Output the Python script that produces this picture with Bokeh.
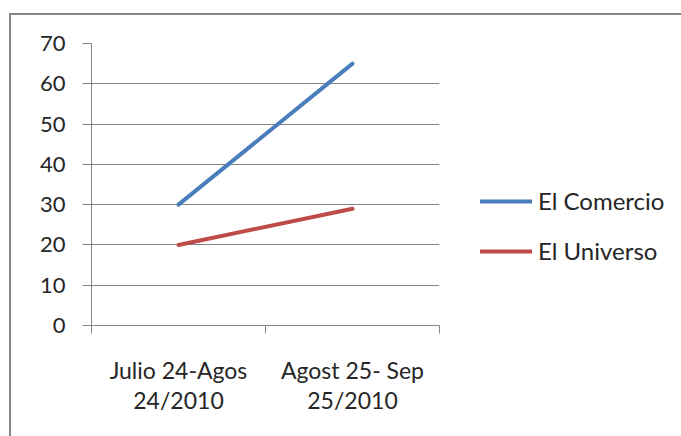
from bokeh.plotting import figure
from bokeh.models import Range1d, FixedTicker, Legend, LegendItem
from bokeh.embed import file_html
from bokeh.resources import INLINE

categories = ["Julio 24-Agos\n24/2010", "Agost 25- Sep\n25/2010"]
series_names = ["El Comercio", "El Universo"]
comercio = [30, 65]
universo = [20, 29]
y_ticks = [0, 10, 20, 30, 40, 50, 60, 70]

colors = ["#4A7EBB", "#BE4B48"]
grey = "#868686"
txt = "#262626"
FONT = "Lato"

x = [i + 0.5 for i in range(len(categories))]

p = figure(frame_width=348, frame_height=282, output_backend="svg", toolbar_location=None,
           x_range=Range1d(0, len(categories)), y_range=Range1d(0, 70),
           min_border_left=80, min_border_top=28, min_border_right=242,
           min_border_bottom=111)
p.styles = {"border-top": "2px solid #868686", "border-left": "2px solid #868686",
            "margin-top": "13px", "margin-left": "9px"}
p.outline_line_color = None
p.background_fill_color = "white"
p.border_fill_color = "white"

r1 = p.line(x, comercio, line_color=colors[0], line_width=4, line_cap="round")
r2 = p.line(x, universo, line_color=colors[1], line_width=4, line_cap="round")

# y axis
p.yaxis.ticker = FixedTicker(ticks=y_ticks)
p.yaxis.axis_line_color = grey
p.yaxis.major_tick_line_color = grey
p.yaxis.major_tick_out = 9
p.yaxis.major_tick_in = 0
p.yaxis.minor_tick_line_color = None
p.yaxis.major_label_text_font = FONT
p.yaxis.major_label_text_font_size = "22px"
p.yaxis.major_label_text_color = txt
p.yaxis.major_label_standoff = 17
p.ygrid.ticker = FixedTicker(ticks=y_ticks)
p.ygrid.grid_line_color = grey
p.ygrid.grid_line_width = 1

# x axis
p.xaxis.ticker = FixedTicker(ticks=x, minor_ticks=list(range(len(categories) + 1)))
p.xaxis.major_label_overrides = {xi: c for xi, c in zip(x, categories)}
p.xaxis.axis_line_color = grey
p.xaxis.major_tick_line_color = None
p.xaxis.minor_tick_line_color = grey
p.xaxis.minor_tick_out = 8
p.xaxis.minor_tick_in = 0
p.xaxis.major_label_text_font = FONT
p.xaxis.major_label_text_font_size = "23px"
p.xaxis.major_label_text_color = txt
p.xaxis.major_label_standoff = 22
p.xaxis.major_label_text_line_height = 1.1
p.xgrid.grid_line_color = None

legend = Legend(items=[LegendItem(label=series_names[0], renderers=[r1]),
                       LegendItem(label=series_names[1], renderers=[r2])],
                location=(41, 60), padding=0, margin=0, spacing=21,
                glyph_width=52, glyph_height=26, label_height=26, label_standoff=6,
                label_text_font=FONT, label_text_font_size="24px", label_text_color=txt,
                border_line_color=None, background_fill_alpha=0)
p.add_layout(legend, "right")

open("out.html", "w").write(file_html(p, INLINE))
